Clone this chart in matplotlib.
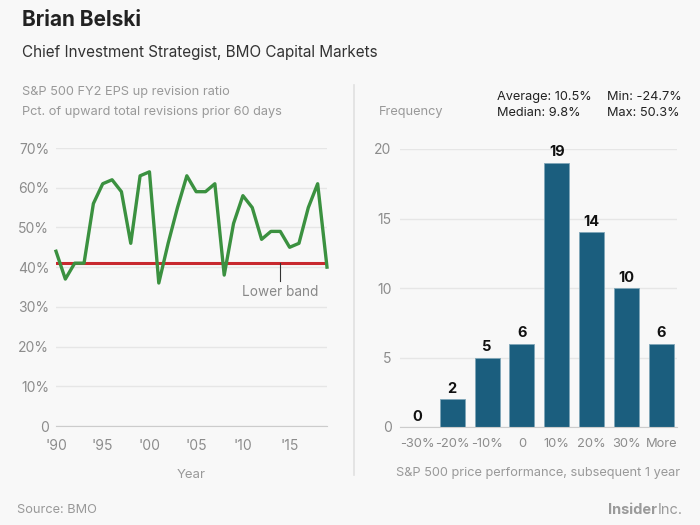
import matplotlib.pyplot as plt
import numpy as np

plt.rcParams['font.family'] = ['Inter', 'DejaVu Sans']

# left panel: up revision ratio by year (%)
years = list(range(1990, 2020))
ratio = [44, 37, 41, 41, 56, 61, 62, 59, 46, 63, 64, 36, 46, 55, 63, 59, 59, 61,
         38, 51, 58, 55, 47, 49, 49, 45, 46, 55, 61, 40]
lower_band = 41
year_ticks = [1990, 1995, 2000, 2005, 2010, 2015]
year_labels = ["'90", "'95", "'00", "'05", "'10", "'15"]

# right panel: histogram of subsequent 1-year performance
bins = ['-30%', '-20%', '-10%', '0', '10%', '20%', '30%', 'More']
freq = [0, 2, 5, 6, 19, 14, 10, 6]

BG = '#f8f8f8'
GRID = '#e6e6e6'
TICK = '#8c8c8c'
LABEL = '#999999'

fig = plt.figure(figsize=(7, 5.25), dpi=100, facecolor=BG)

fig.text(22 / 700, 1 - 20 / 525, 'Brian Belski', fontsize=15, fontweight='bold',
         color='#222222', va='center')
fig.text(22 / 700, 1 - 53 / 525, 'Chief Investment Strategist, BMO Capital Markets',
         fontsize=11, color='#333333', va='center')
fig.text(22 / 700, 1 - 92 / 525, 'S&P 500 FY2 EPS up revision ratio', fontsize=9.2,
         color=LABEL, va='center')
fig.text(22 / 700, 1 - 112 / 525, 'Pct. of upward total revisions prior 60 days',
         fontsize=9.2, color=LABEL, va='center')

# left axes
ax1 = fig.add_axes([56 / 700, 1 - 426 / 525, 271 / 700, 278 / 525], facecolor=BG)
ax1.set_xlim(1990, 2019)
ax1.set_ylim(0, 70)
ax1.set_yticks(range(0, 71, 10))
ax1.set_yticklabels(['0'] + [f'{v}%' for v in range(10, 71, 10)])
ax1.set_xticks(year_ticks)
ax1.set_xticklabels(year_labels)
ax1.grid(axis='y', color=GRID, lw=1)
ax1.set_axisbelow(True)
for s in ax1.spines.values():
    s.set_visible(False)
ax1.spines['bottom'].set_visible(True)
ax1.spines['bottom'].set_color('#cccccc')
ax1.tick_params(length=0, colors=TICK, labelsize=10)
ax1.tick_params(axis='y', pad=5)
ax1.tick_params(axis='x', pad=9)
ax1.axhline(lower_band, color='#c8282e', lw=2.2, zorder=2)
ax1.plot(years, ratio, color='#3b9140', lw=2.4, zorder=3, clip_on=False)
ax1.plot([2014, 2014], [lower_band, lower_band - 4.5], color='#333333', lw=0.8, zorder=2)
ax1.text(2014, lower_band - 5.5, 'Lower band', ha='center', va='top', fontsize=9.8,
         color='#888888')
ax1.set_xlabel('Year', fontsize=9.5, color=LABEL, labelpad=12)

# separator
fig.add_artist(plt.Line2D([354 / 700, 354 / 700], [1 - 85 / 525, 1 - 475 / 525],
                          color='#e0e0e0', lw=1.2))

# right axes
ax2 = fig.add_axes([400 / 700, 1 - 427 / 525, 277 / 700, 278 / 525], facecolor=BG)
x = np.arange(len(bins))
ax2.bar(x, freq, width=0.72, color='#1b5e7e', edgecolor='#7fa6b8', lw=0.6, zorder=2)
for xi, f in zip(x, freq):
    ax2.text(xi, f + 0.25, str(f), ha='center', va='bottom', fontsize=10.5,
             fontweight='bold', color='#111111')
ax2.set_xlim(-0.5, 7.45)
ax2.set_ylim(0, 20)
ax2.set_yticks([0, 5, 10, 15, 20])
ax2.set_xticks(x)
ax2.set_xticklabels(bins)
ax2.grid(axis='y', color=GRID, lw=1)
ax2.set_axisbelow(True)
for s in ax2.spines.values():
    s.set_visible(False)
ax2.spines['bottom'].set_visible(True)
ax2.spines['bottom'].set_color('#cccccc')
ax2.tick_params(length=0, colors=TICK, labelsize=10)
ax2.tick_params(axis='x', labelsize=9.3)
ax2.tick_params(axis='y', pad=6)
ax2.tick_params(axis='x', pad=8)
ax2.set_xlabel('S&P 500 price performance, subsequent 1 year', fontsize=9.2,
               color=LABEL, labelpad=12)

fig.text(379 / 700, 1 - 112 / 525, 'Frequency', fontsize=9.2, color=LABEL, va='center')
fig.text(497 / 700, 1 - 97 / 525, 'Average: 10.5%', fontsize=9.2, color='#222222', va='center')
fig.text(497 / 700, 1 - 113 / 525, 'Median: 9.8%', fontsize=9.2, color='#222222', va='center')
fig.text(607 / 700, 1 - 97 / 525, 'Min: -24.7%', fontsize=9.2, color='#222222', va='center')
fig.text(607 / 700, 1 - 113 / 525, 'Max: 50.3%', fontsize=9.2, color='#222222', va='center')

fig.text(17 / 700, 1 - 510 / 525, 'Source: BMO', fontsize=9.2, color='#999999', va='center')
fig.text(657 / 700, 1 - 510 / 525, 'Insider', fontsize=10.5, fontweight='bold',
         color='#9a9a9a', va='center', ha='right')
fig.text(658 / 700, 1 - 510 / 525, 'Inc.', fontsize=10.5, color='#9a9a9a', va='center', ha='left')

fig.savefig('out.png', dpi=100, facecolor=BG)
